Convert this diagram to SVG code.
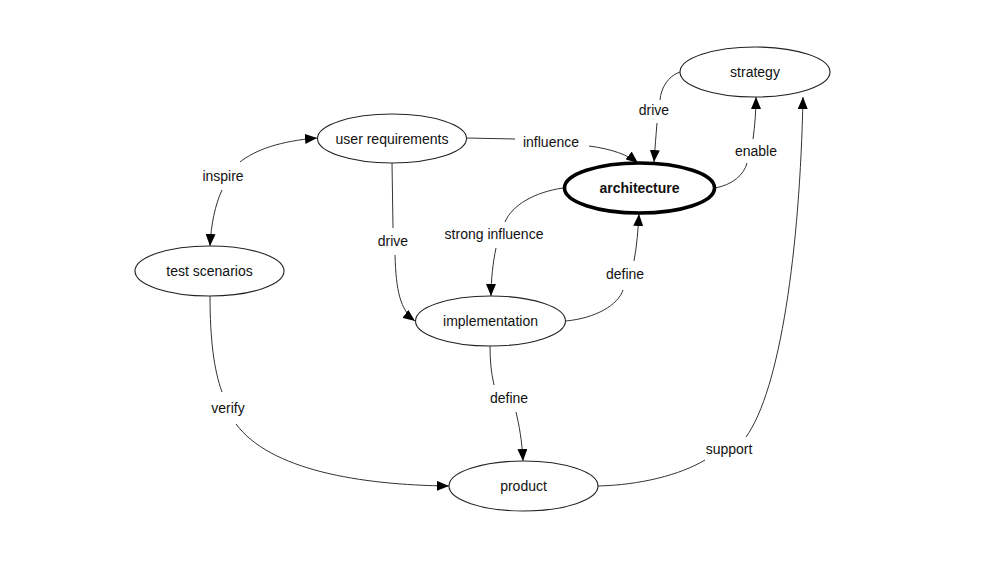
<svg xmlns="http://www.w3.org/2000/svg" width="1000" height="562" viewBox="0 0 1000 562">
<defs>
<style>
.node ellipse{fill:#fff;stroke:#222;stroke-width:1.1}
.node.main ellipse{stroke:#000;stroke-width:3.6}
text{font-family:"Liberation Sans",Arial,sans-serif;font-size:14px;fill:#111;text-anchor:middle}
.main text{font-weight:bold}
#connectors path{fill:none;stroke:#333;stroke-width:1}
.lbl{font-size:14px}
</style>
<marker id="arr" viewBox="0 0 12 10" refX="12" refY="5" markerWidth="12" markerHeight="10" markerUnits="userSpaceOnUse" orient="auto">
<path d="M0,0 L12,5 L0,10 z" fill="#000"/>
</marker>
</defs>
<rect width="1000" height="562" fill="#fff"/>
<g id="connectors">
<path d="M466,138 L515,139"/>
<path d="M589,146 C612,149 628,155 638,163" marker-end="url(#arr)"/>
<path d="M680,72 C668,76 661,88 660,100"/>
<path d="M657,123 C656,135 655,148 654,162" marker-end="url(#arr)"/>
<path d="M715,188 C732,185 744,175 747,163"/>
<path d="M753,139 C755,125 756,110 756,97" marker-end="url(#arr)"/>
<path d="M566,321 C596,318 618,305 623,290"/>
<path d="M634,261 C637,245 638,230 639,214" marker-end="url(#arr)"/>
<path d="M563,188 C535,192 512,205 505,222"/>
<path d="M496,248 C493,262 491,280 491,296" marker-end="url(#arr)"/>
<path d="M392,163 L393,228"/>
<path d="M395,255 C396,290 400,310 415,321" marker-end="url(#arr)"/>
<path d="M240,162 C255,150 280,141 317,138" marker-end="url(#arr)"/>
<path d="M222,190 C215,205 211,225 210,246" marker-end="url(#arr)"/>
<path d="M210,296 C210,340 214,370 222,392"/>
<path d="M236,424 C270,470 360,485 449,486" marker-end="url(#arr)"/>
<path d="M490,346 C490,360 491,372 494,385"/>
<path d="M516,412 C519,425 522,440 523,461" marker-end="url(#arr)"/>
<path d="M598,486 C640,485 680,475 705,460"/>
<path d="M746,437 C780,390 800,250 803,97" marker-end="url(#arr)"/>
<text class="lbl" x="551" y="147">influence</text>
<text class="lbl" x="654" y="115">drive</text>
<text class="lbl" x="756" y="156">enable</text>
<text class="lbl" x="625" y="279">define</text>
<text class="lbl" x="494" y="239">strong influence</text>
<text class="lbl" x="393" y="246">drive</text>
<text class="lbl" x="223" y="181">inspire</text>
<text class="lbl" x="228" y="413">verify</text>
<text class="lbl" x="509" y="403">define</text>
<text class="lbl" x="729" y="454">support</text>
</g>
<g id="user-requirements" class="node"><ellipse cx="392" cy="138.5" rx="74.5" ry="24.5"/><text x="392" y="143.5">user requirements</text></g>
<g id="test-scenarios" class="node"><ellipse cx="209.5" cy="271" rx="74.5" ry="25"/><text x="209.5" y="276">test scenarios</text></g>
<g id="strategy" class="node"><ellipse cx="755" cy="72" rx="75" ry="25"/><text x="755" y="77">strategy</text></g>
<g id="architecture" class="node main"><ellipse cx="639.5" cy="188" rx="75" ry="25"/><text x="639.5" y="193">architecture</text></g>
<g id="implementation" class="node"><ellipse cx="490.5" cy="321" rx="75" ry="25"/><text x="490.5" y="326">implementation</text></g>
<g id="product" class="node"><ellipse cx="523.5" cy="486" rx="74.5" ry="25"/><text x="523.5" y="491">product</text></g>
</svg>
